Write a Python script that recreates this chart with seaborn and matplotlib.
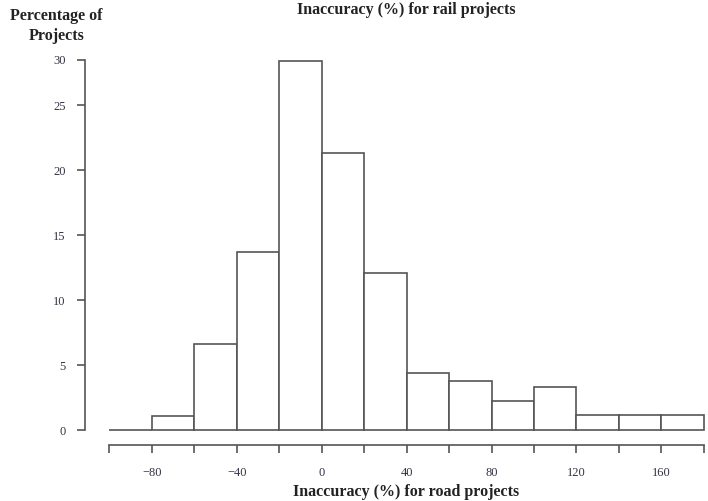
import matplotlib
matplotlib.use("Agg")
import matplotlib.pyplot as plt
import seaborn as sns

# bins of road-project inaccuracy (%) and share of projects per bin
bin_edges = [-100, -80, -60, -40, -20, 0, 20, 40, 60, 80, 100, 120, 140, 160, 180]
bin_mids = [-90, -70, -50, -30, -10, 10, 30, 50, 70, 90, 110, 130, 150, 170]
pct_projects = [0.0, 1.1, 6.6, 13.7, 28.4, 21.3, 12.1, 4.4, 3.8, 2.25, 3.3, 1.15, 1.15, 1.15]

y_ticks = [0, 5, 10, 15, 20, 25, 28.5]
y_labels = ["0", "5", "10", "15", "20", "25", "30"]
x_ticks = bin_edges
x_labels = ["", "−80", "", "−40", "", "0", "", "40", "", "80", "", "120", "", "160", ""]

sns.set_style("ticks")
plt.rcParams["font.family"] = ["Liberation Serif", "DejaVu Serif"]

line_col = "#555555"
text_col = "#333344"

fig = plt.figure(figsize=(7.08, 5.01), dpi=100)
ax = fig.add_axes([85 / 708, 56 / 501, 621 / 708, 390 / 501])

sns.histplot(x=bin_mids, weights=pct_projects, bins=bin_edges, ax=ax,
             color="white", edgecolor=line_col, linewidth=1.2, alpha=1)

ax.set_xlim(-111.5, 181)
ax.set_ylim(-1.15, 28.85)

for side in ["top", "right"]:
    ax.spines[side].set_visible(False)
ax.spines["left"].set_bounds(0, 28.5)
ax.spines["bottom"].set_bounds(-100, 180)
for side in ["left", "bottom"]:
    ax.spines[side].set_color(line_col)
    ax.spines[side].set_linewidth(1.2)

ax.set_yticks(y_ticks)
ax.set_yticklabels(y_labels)
ax.set_xticks(x_ticks)
ax.set_xticklabels(x_labels)
ax.tick_params(axis="y", left=True, direction="out", length=6, width=1.2,
               color=line_col, pad=8, labelsize=9, labelcolor=text_col)
ax.tick_params(axis="x", bottom=True, direction="out", length=6, width=1.2,
               color=line_col, pad=10, labelsize=9, labelcolor=text_col)
ax.set_xlabel("")
ax.set_ylabel("")

fig.text(0.574, 0.996, "Inaccuracy (%) for rail projects", ha="center", va="top",
         fontsize=11.5, fontweight="bold", color="#222222")
fig.text(0.574, 0.002, "Inaccuracy (%) for road projects", ha="center", va="bottom",
         fontsize=11.5, fontweight="bold", color="#222222")
fig.text(0.08, 0.985, "Percentage of\nProjects", ha="center", va="top",
         fontsize=11.5, fontweight="bold", color="#222222", linespacing=1.35)

fig.savefig("out.png", dpi=100)
